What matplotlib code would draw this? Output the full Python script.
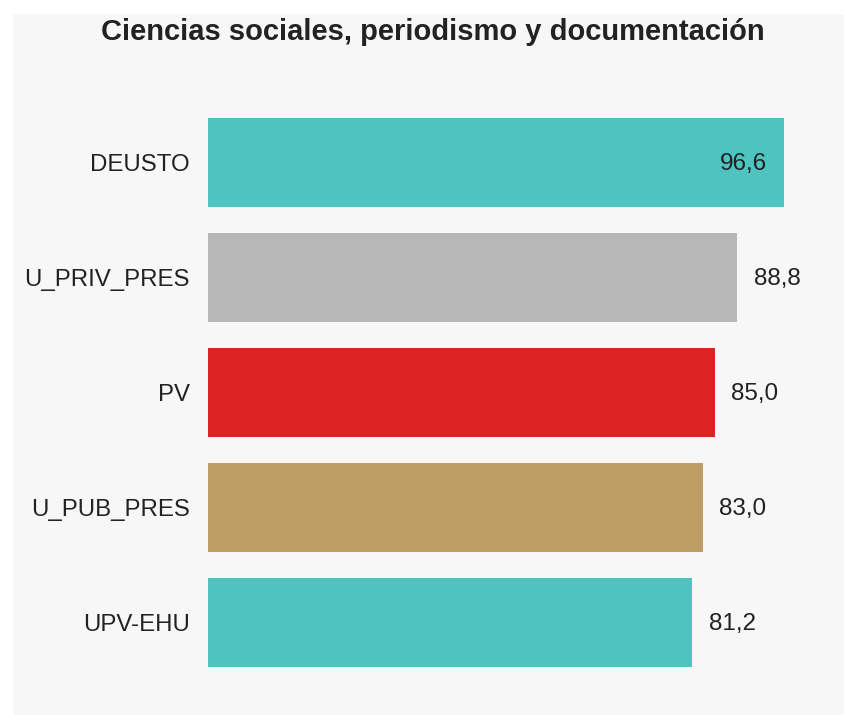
import matplotlib.pyplot as plt
from matplotlib.patches import Rectangle

plt.rcParams['font.family'] = ['Liberation Sans', 'DejaVu Sans']

categories = ['DEUSTO', 'U_PRIV_PRES', 'PV', 'U_PUB_PRES', 'UPV-EHU']
values = [96.6, 88.8, 85.0, 83.0, 81.2]
colors = ['#4fc3bf', '#b7b7b7', '#dc2323', '#bf9e66', '#4fc3bf']
inside = [True, False, False, False, False]

W, H = 844, 715
fig = plt.figure(figsize=(W / 100, H / 100), dpi=100, facecolor='white')
fig.add_artist(Rectangle((13 / W, 0), 1, (H - 14) / H, transform=fig.transFigure,
                         facecolor='#f7f7f7', edgecolor='none', zorder=-5))

ax = fig.add_axes([208 / W, 35 / H, 596 / W, 575 / H])
ax.set_facecolor('none')

ypos = list(range(len(categories)))
ax.barh(ypos, values, height=0.77, color=colors)
ax.set_xlim(0, 100)
ax.set_ylim(len(categories) - 0.5, -0.5)

for y, v, ins in zip(ypos, values, inside):
    txt = f'{v:.1f}'.replace('.', ',')
    if ins:
        ax.annotate(txt, (v, y), xytext=(-12, -1), textcoords='offset points',
                    ha='right', va='center', fontsize=17.5, color='#222222')
    else:
        ax.annotate(txt, (v, y), xytext=(12, -1), textcoords='offset points',
                    ha='left', va='center', fontsize=17.5, color='#222222')

ax.set_yticks(ypos)
ax.set_yticklabels(categories, fontsize=17.25, color='#222222')
ax.tick_params(axis='y', length=0, pad=13)
ax.set_xticks([])
for s in ax.spines.values():
    s.set_visible(False)

fig.text(433 / W, 1 - 32 / H, 'Ciencias sociales, periodismo y documentación',
         ha='center', va='center', fontsize=21, fontweight='bold', color='#222222')

fig.savefig('out.png', dpi=100)
